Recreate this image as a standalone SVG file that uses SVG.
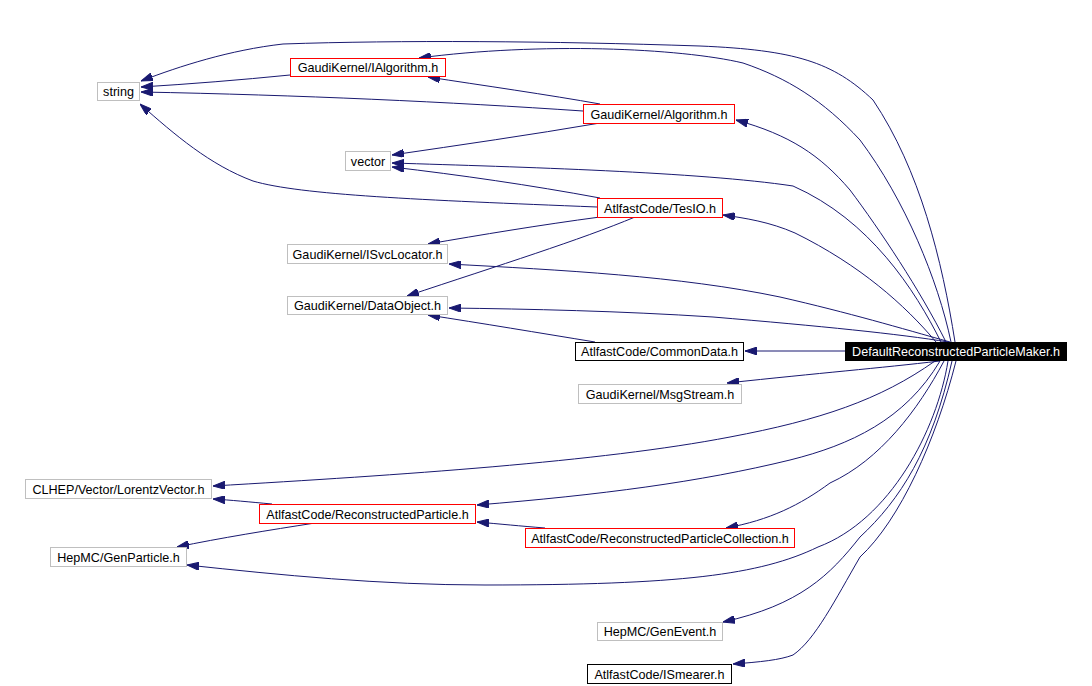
<svg xmlns="http://www.w3.org/2000/svg" width="1092" height="686" viewBox="0 0 1092 686">
<style>
.n rect{fill:#fff;stroke-width:1}
.g rect{stroke:#bfbfbf}
.r rect{stroke:#ff0000}
.b rect{stroke:#000}
text{font-family:"Liberation Sans",Arial,sans-serif;font-size:12.6px;text-anchor:middle;fill:#000}
.e path{fill:none;stroke:#191970;stroke-width:1;marker-end:url(#ah)}
</style>
<defs>
<marker id="ah" markerUnits="userSpaceOnUse" markerWidth="12" markerHeight="8" refX="12" refY="4" orient="auto" viewBox="0 0 12 8">
<path d="M0,0 L12,4 L0,8 z" fill="#191970" stroke="#191970"/>
</marker>
</defs>
<rect width="1092" height="686" fill="#fff"/>
<g id="edges" class="e">
<path d="M955,342 C942,260 920,170 873,100 C833,62 795,50 700,46 C550,41 400,40 283,44 C230,50 180,66 141,81"/>
<path d="M951,342 C938,280 905,200 860,140 C823,100 787,78 743,63 C680,48 540,42 419,58"/>
<path d="M946,342 C920,290 880,230 850,190 C820,155 790,135 736,120"/>
<path d="M941,342 C915,290 870,220 793,186 C700,172 520,167 392,163"/>
<path d="M936,342 C905,305 860,265 795,233 C770,222 745,218 723,215"/>
<path d="M950,342 C900,328 850,313 780,297 C680,276 560,270 449,264"/>
<path d="M948,342 C900,334 820,326 713,317 C620,311 530,309 449,308"/>
<path d="M845,351 L745,351"/>
<path d="M940,361 C880,368 820,373 727,383"/>
<path d="M935,361 C880,400 820,420 730,437 C600,462 400,475 213,486"/>
<path d="M940,361 C905,420 850,445 790,460 C700,482 600,495 477,505"/>
<path d="M944,361 C918,410 880,460 830,483 C800,505 770,520 726,528"/>
<path d="M948,361 C937,430 890,520 818,547 C760,575 680,585 485,585 C380,585 280,575 187,565"/>
<path d="M952,361 C932,450 900,500 860,537 C830,575 800,605 723,622"/>
<path d="M956,361 C936,440 900,520 860,557 C835,600 815,640 793,655 C780,660 760,662 733,664"/>
<path d="M290,75 C240,80 190,84 141,87"/>
<path d="M583,111 C450,102 300,95 141,92"/>
<path d="M600,104 C550,95 480,85 428,77"/>
<path d="M600,123 C530,135 460,145 392,155"/>
<path d="M597,207 C420,200 300,195 253,181 C210,165 175,135 140,104"/>
<path d="M600,198 C530,185 460,175 392,167"/>
<path d="M600,217 C540,225 480,235 428,244"/>
<path d="M635,217 C580,240 500,265 407,296"/>
<path d="M595,342 C540,333 480,323 428,315"/>
<path d="M272,504 C250,502 230,500 213,499"/>
<path d="M315,523 C270,530 220,538 177,547"/>
<path d="M545,528 C520,526 500,524 477,522"/>
</g>
<g id="string" class="n g"><rect x="97.5" y="82.5" width="42" height="18"/><text x="118.5" y="96">string</text></g>
<g id="IAlgorithm" class="n r"><rect x="290.5" y="58.5" width="155" height="18"/><text x="368" y="72">GaudiKernel/IAlgorithm.h</text></g>
<g id="vector" class="n g"><rect x="345.5" y="151.5" width="45" height="19"/><text x="368" y="165.5">vector</text></g>
<g id="Algorithm" class="n r"><rect x="583.5" y="104.5" width="151" height="19"/><text x="659" y="118.5">GaudiKernel/Algorithm.h</text></g>
<g id="TesIO" class="n r"><rect x="597.5" y="198.5" width="125" height="19"/><text x="660" y="212.5">AtlfastCode/TesIO.h</text></g>
<g id="ISvcLocator" class="n g"><rect x="287.5" y="244.5" width="160" height="19"/><text x="367.5" y="258.5">GaudiKernel/ISvcLocator.h</text></g>
<g id="DataObject" class="n g"><rect x="287.5" y="296.5" width="160" height="18"/><text x="367.5" y="310">GaudiKernel/DataObject.h</text></g>
<g id="CommonData" class="n b"><rect x="575.5" y="342.5" width="168" height="18"/><text x="659.5" y="356">AtlfastCode/CommonData.h</text></g>
<g id="MsgStream" class="n g"><rect x="578.5" y="384.5" width="163" height="19"/><text x="660" y="398.5">GaudiKernel/MsgStream.h</text></g>
<g id="DefaultReconstructedParticleMaker"><rect x="845" y="342" width="222" height="19" fill="#000"/><text x="956" y="356" fill="#fff" style="fill:#fff">DefaultReconstructedParticleMaker.h</text></g>
<g id="LorentzVector" class="n g"><rect x="25.5" y="479.5" width="186" height="19"/><text x="118.5" y="493.5">CLHEP/Vector/LorentzVector.h</text></g>
<g id="ReconstructedParticle" class="n r"><rect x="259.5" y="504.5" width="216" height="19"/><text x="367.5" y="518.5">AtlfastCode/ReconstructedParticle.h</text></g>
<g id="GenParticle" class="n g"><rect x="50.5" y="547.5" width="136" height="19"/><text x="118.5" y="561.5">HepMC/GenParticle.h</text></g>
<g id="ReconstructedParticleCollection" class="n r"><rect x="525.5" y="528.5" width="269" height="19"/><text x="660" y="542.5">AtlfastCode/ReconstructedParticleCollection.h</text></g>
<g id="GenEvent" class="n g"><rect x="597.5" y="622.5" width="125" height="18"/><text x="660" y="636">HepMC/GenEvent.h</text></g>
<g id="ISmearer" class="n b"><rect x="587.5" y="664.5" width="144" height="19"/><text x="659.5" y="678.5">AtlfastCode/ISmearer.h</text></g>
</svg>
